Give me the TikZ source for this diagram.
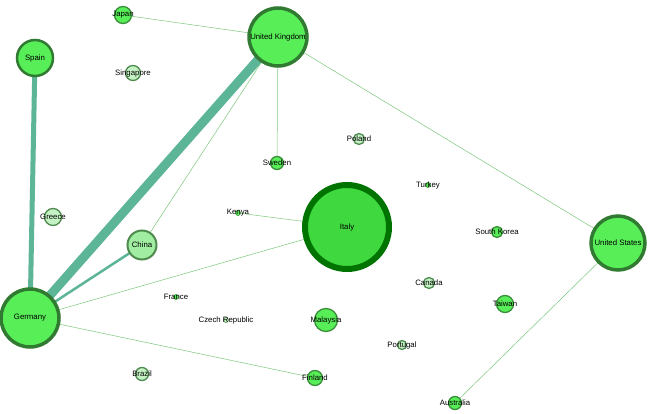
\documentclass[tikz,border=0pt]{standalone}
\usepackage{fontspec}
\setmainfont{Liberation Sans}
\definecolor{bright}{HTML}{58EE58}
\definecolor{pale}{HTML}{C4F2C4}
\definecolor{mid}{HTML}{8AEA8A}
\definecolor{rim}{HTML}{3A8F3A}
\definecolor{thick}{HTML}{5DB598}
\definecolor{thin}{HTML}{7CC87C}
\begin{document}
\begin{tikzpicture}[x=1pt,y=-1pt,
  nd/.style={circle,draw=rim,line width=1.3pt,inner sep=0pt,fill=bright},
  pl/.style={nd,fill=pale,draw=rim!70!gray},
  big/.style={nd,line width=3.5pt,draw=rim!85!black},
  lab/.style={font=\fontsize{7.8}{9}\selectfont,text=black},
  e/.style={draw=thin,line width=0.5pt}]
\useasboundingbox (0,0) rectangle (650,414);
\fill[white] (0,0) rectangle (650,414);
% edges first
\coordinate (jp) at (123,15); \coordinate (uk) at (278,37);
\coordinate (sp) at (35,58); \coordinate (sw) at (277,163);
\coordinate (it) at (347,227); \coordinate (us) at (618,243);
\coordinate (cn) at (142,245); \coordinate (de) at (30,318);
\coordinate (ke) at (238,213); \coordinate (fi) at (315,378);
\coordinate (au) at (455,403);
\draw[e] (jp)--(uk); \draw[e] (uk)--(us); \draw[e] (uk)--(sw);
\draw[e] (uk)--(cn); \draw[e] (de)--(it); \draw[e] (de)--(fi);
\draw[e] (ke)--(it); \draw[e] (us)--(au);
\draw[draw=thick,line width=2.5pt] (de)--(cn);
\draw[draw=thick,line width=5pt] (sp)--(de);
\draw[draw=thick,line width=9pt] (uk)--(de);
% nodes
\node[nd,minimum size=17pt] (n1) at (jp) {};
\node[big,minimum size=58pt] (n2) at (uk) {};
\node[big,line width=2.5pt,minimum size=36pt] (n3) at (sp) {};
\node[pl,minimum size=15pt] (n4) at (133,73) {};
\node[pl,minimum size=11pt] (n5) at (359,139) {};
\node[nd,minimum size=13pt] (n6) at (sw) {};
\node[nd,minimum size=5pt,line width=0.6pt] (n7) at (428,185) {};
\node[pl,minimum size=17pt] (n8) at (53,217) {};
\node[nd,minimum size=5pt,line width=0.6pt] (n9) at (ke) {};
\node[big,line width=6pt,fill=bright!80!green!90!black,draw=green!45!black,minimum size=84pt] (n10) at (it) {};
\node[nd,minimum size=11pt] (n11) at (497,232) {};
\node[big,minimum size=54pt] (n12) at (us) {};
\node[pl,fill=mid!60!pale,line width=2pt,minimum size=29pt] (n13) at (cn) {};
\node[pl,minimum size=11pt] (n14) at (429,283) {};
\node[nd,minimum size=5pt,line width=0.6pt] (n15) at (176,297) {};
\node[nd,minimum size=17pt] (n16) at (505,304) {};
\node[big,minimum size=58pt] (n17) at (de) {};
\node[pl,minimum size=5pt,line width=0.6pt] (n18) at (226,320) {};
\node[nd,minimum size=23pt] (n19) at (326,320) {};
\node[pl,minimum size=9pt] (n20) at (402,345) {};
\node[pl,minimum size=13pt] (n21) at (142,374) {};
\node[nd,minimum size=15pt] (n22) at (fi) {};
\node[nd,minimum size=13pt] (n23) at (au) {};
% labels
\node[lab] at (n1) {Japan};
\node[lab] at (n2) {United Kingdom};
\node[lab] at (n3) {Spain};
\node[lab] at (n4) {Singapore};
\node[lab] at (n5) {Poland};
\node[lab] at (n6) {Sweden};
\node[lab] at (n7) {Turkey};
\node[lab] at (n8) {Greece};
\node[lab] at (n9) {Kenya};
\node[lab] at (n10) {Italy};
\node[lab] at (n11) {South Korea};
\node[lab] at (n12) {United States};
\node[lab] at (n13) {China};
\node[lab] at (n14) {Canada};
\node[lab] at (n15) {France};
\node[lab] at (n16) {Taiwan};
\node[lab] at (n17) {Germany};
\node[lab] at (n18) {Czech Republic};
\node[lab] at (n19) {Malaysia};
\node[lab] at (n20) {Portugal};
\node[lab] at (n21) {Brazil};
\node[lab] at (n22) {Finland};
\node[lab] at (n23) {Australia};
\end{tikzpicture}
\end{document}
